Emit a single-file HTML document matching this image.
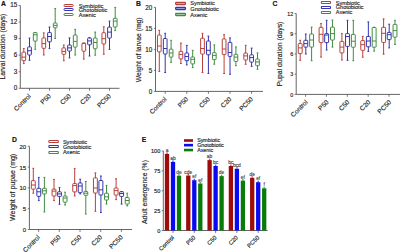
<!DOCTYPE html>
<html><head><meta charset="utf-8"><style>
html,body{margin:0;padding:0;background:#fff;width:400px;height:252px;overflow:hidden}
svg{display:block;font-family:"Liberation Sans", sans-serif} text{stroke:#222;stroke-width:0.15px;paint-order:stroke}
</style></head><body>
<svg width="400" height="252" viewBox="0 0 400 252">
<rect width="400" height="252" fill="#fff"/>
<line x1="20.3" y1="5.5" x2="20.3" y2="88.3" stroke="#555" stroke-width="0.9"/>
<line x1="20.3" y1="88.3" x2="119.5" y2="88.3" stroke="#555" stroke-width="0.9"/>
<line x1="18.7" y1="88.3" x2="20.3" y2="88.3" stroke="#555" stroke-width="0.8"/>
<text x="17.3" y="90.1" font-size="6.3" text-anchor="end" fill="#222">0</text>
<line x1="18.7" y1="71.74" x2="20.3" y2="71.74" stroke="#555" stroke-width="0.8"/>
<text x="17.3" y="73.53999999999999" font-size="6.3" text-anchor="end" fill="#222">3</text>
<line x1="18.7" y1="55.18" x2="20.3" y2="55.18" stroke="#555" stroke-width="0.8"/>
<text x="17.3" y="56.98" font-size="6.3" text-anchor="end" fill="#222">6</text>
<line x1="18.7" y1="38.62" x2="20.3" y2="38.62" stroke="#555" stroke-width="0.8"/>
<text x="17.3" y="40.419999999999995" font-size="6.3" text-anchor="end" fill="#222">9</text>
<line x1="18.7" y1="22.06" x2="20.3" y2="22.06" stroke="#555" stroke-width="0.8"/>
<text x="17.3" y="23.86" font-size="6.3" text-anchor="end" fill="#222">12</text>
<line x1="18.7" y1="5.5" x2="20.3" y2="5.5" stroke="#555" stroke-width="0.8"/>
<text x="17.3" y="7.3" font-size="6.3" text-anchor="end" fill="#222">15</text>
<line x1="29.5" y1="88.3" x2="29.5" y2="90.7" stroke="#555" stroke-width="0.8"/>
<text transform="translate(31.3,96.6) rotate(-45)" font-size="6.5" text-anchor="end" fill="#222">Control</text>
<line x1="49.5" y1="88.3" x2="49.5" y2="90.7" stroke="#555" stroke-width="0.8"/>
<text transform="translate(51.3,96.6) rotate(-45)" font-size="6.5" text-anchor="end" fill="#222">P50</text>
<line x1="69.5" y1="88.3" x2="69.5" y2="90.7" stroke="#555" stroke-width="0.8"/>
<text transform="translate(71.3,96.6) rotate(-45)" font-size="6.5" text-anchor="end" fill="#222">C50</text>
<line x1="89.5" y1="88.3" x2="89.5" y2="90.7" stroke="#555" stroke-width="0.8"/>
<text transform="translate(91.3,96.6) rotate(-45)" font-size="6.5" text-anchor="end" fill="#222">C20</text>
<line x1="109.5" y1="88.3" x2="109.5" y2="90.7" stroke="#555" stroke-width="0.8"/>
<text transform="translate(111.3,96.6) rotate(-45)" font-size="6.5" text-anchor="end" fill="#222">PC50</text>
<text transform="translate(5.0,46.6) rotate(-90)" font-size="6.8" text-anchor="middle" fill="#222">Larval duration (days)</text>
<text x="1.0" y="6.0" font-size="6.8" font-weight="bold" fill="#111">A</text>
<rect x="64.1" y="4.5" width="8.999999999999993" height="2" rx="0.5" fill="none" stroke="#b8403a" stroke-width="1.0"/>
<text x="78.7" y="7.5" font-size="5.7" fill="#222">Symbiotic</text>
<rect x="64.1" y="8.5" width="8.999999999999993" height="2" rx="0.5" fill="none" stroke="#3535b0" stroke-width="1.0"/>
<text x="78.7" y="12.0" font-size="5.7" fill="#222">Gnotobiotic</text>
<rect x="64.1" y="13.5" width="8.999999999999993" height="2" rx="0.5" fill="none" stroke="#428c42" stroke-width="1.0"/>
<text x="78.7" y="16.5" font-size="5.7" fill="#222">Axenic</text>
<g stroke="#b8403a" stroke-width="1.0" fill="none"><line x1="23.8" y1="48.6" x2="23.8" y2="52.1"/><line x1="23.8" y1="60.7" x2="23.8" y2="63.6"/><line x1="22.900000000000002" y1="48.6" x2="24.7" y2="48.6"/><line x1="22.900000000000002" y1="63.6" x2="24.7" y2="63.6"/><rect x="21.95" y="52.1" width="3.7" height="8.600000000000001" rx="0.6"/><line x1="21.95" y1="57.1" x2="25.65" y2="57.1"/></g>
<g stroke="#3535b0" stroke-width="1.0" fill="none"><line x1="29.5" y1="38.1" x2="29.5" y2="46.9"/><line x1="29.5" y1="55" x2="29.5" y2="60.3"/><line x1="28.6" y1="38.1" x2="30.4" y2="38.1"/><line x1="28.6" y1="60.3" x2="30.4" y2="60.3"/><rect x="27.65" y="46.9" width="3.7" height="8.100000000000001" rx="0.6"/><line x1="27.65" y1="50.7" x2="31.349999999999998" y2="50.7"/></g>
<g stroke="#428c42" stroke-width="1.0" fill="none"><line x1="35.2" y1="32.6" x2="35.2" y2="32.6"/><line x1="35.2" y1="41.1" x2="35.2" y2="49.3"/><line x1="34.300000000000004" y1="32.6" x2="36.1" y2="32.6"/><line x1="34.300000000000004" y1="49.3" x2="36.1" y2="49.3"/><rect x="33.35" y="32.6" width="3.7" height="8.5" rx="0.6"/><line x1="33.35" y1="34.8" x2="37.050000000000004" y2="34.8"/></g>
<g stroke="#b8403a" stroke-width="1.0" fill="none"><line x1="43.8" y1="32.9" x2="43.8" y2="37.9"/><line x1="43.8" y1="48.3" x2="43.8" y2="55"/><line x1="42.9" y1="32.9" x2="44.699999999999996" y2="32.9"/><line x1="42.9" y1="55" x2="44.699999999999996" y2="55"/><rect x="41.949999999999996" y="37.9" width="3.7" height="10.399999999999999" rx="0.6"/><line x1="41.949999999999996" y1="43.6" x2="45.65" y2="43.6"/></g>
<g stroke="#3535b0" stroke-width="1.0" fill="none"><line x1="49.5" y1="27.0" x2="49.5" y2="32.5"/><line x1="49.5" y1="41.8" x2="49.5" y2="48.6"/><line x1="48.6" y1="27.0" x2="50.4" y2="27.0"/><line x1="48.6" y1="48.6" x2="50.4" y2="48.6"/><rect x="47.65" y="32.5" width="3.7" height="9.299999999999997" rx="0.6"/><line x1="47.65" y1="36.5" x2="51.35" y2="36.5"/></g>
<g stroke="#428c42" stroke-width="1.0" fill="none"><line x1="55.2" y1="8.6" x2="55.2" y2="23.0"/><line x1="55.2" y1="27.8" x2="55.2" y2="38.5"/><line x1="54.300000000000004" y1="8.6" x2="56.1" y2="8.6"/><line x1="54.300000000000004" y1="38.5" x2="56.1" y2="38.5"/><rect x="53.35" y="23.0" width="3.7" height="4.800000000000001" rx="0.6"/><line x1="53.35" y1="25.4" x2="57.050000000000004" y2="25.4"/></g>
<g stroke="#b8403a" stroke-width="1.0" fill="none"><line x1="63.8" y1="45" x2="63.8" y2="47.9"/><line x1="63.8" y1="54.3" x2="63.8" y2="60.7"/><line x1="62.9" y1="45" x2="64.7" y2="45"/><line x1="62.9" y1="60.7" x2="64.7" y2="60.7"/><rect x="61.949999999999996" y="47.9" width="3.7" height="6.399999999999999" rx="0.6"/><line x1="61.949999999999996" y1="51.4" x2="65.64999999999999" y2="51.4"/></g>
<g stroke="#3535b0" stroke-width="1.0" fill="none"><line x1="69.5" y1="37.9" x2="69.5" y2="45"/><line x1="69.5" y1="51.1" x2="69.5" y2="57.9"/><line x1="68.6" y1="37.9" x2="70.4" y2="37.9"/><line x1="68.6" y1="57.9" x2="70.4" y2="57.9"/><rect x="67.65" y="45" width="3.7" height="6.100000000000001" rx="0.6"/><line x1="67.65" y1="47.9" x2="71.35000000000001" y2="47.9"/></g>
<g stroke="#428c42" stroke-width="1.0" fill="none"><line x1="75.2" y1="29.3" x2="75.2" y2="35"/><line x1="75.2" y1="47.1" x2="75.2" y2="55"/><line x1="74.3" y1="29.3" x2="76.10000000000001" y2="29.3"/><line x1="74.3" y1="55" x2="76.10000000000001" y2="55"/><rect x="73.35000000000001" y="35" width="3.7" height="12.100000000000001" rx="0.6"/><line x1="73.35000000000001" y1="41.4" x2="77.05000000000001" y2="41.4"/></g>
<g stroke="#b8403a" stroke-width="1.0" fill="none"><line x1="83.8" y1="43.1" x2="83.8" y2="43.3"/><line x1="83.8" y1="51.2" x2="83.8" y2="59.1"/><line x1="82.89999999999999" y1="43.1" x2="84.7" y2="43.1"/><line x1="82.89999999999999" y1="59.1" x2="84.7" y2="59.1"/><rect x="81.95" y="43.3" width="3.7" height="7.900000000000006" rx="0.6"/><line x1="81.95" y1="43.3" x2="85.65" y2="43.3"/></g>
<g stroke="#3535b0" stroke-width="1.0" fill="none"><line x1="89.5" y1="37.7" x2="89.5" y2="38"/><line x1="89.5" y1="44.8" x2="89.5" y2="56"/><line x1="88.6" y1="37.7" x2="90.4" y2="37.7"/><line x1="88.6" y1="56" x2="90.4" y2="56"/><rect x="87.65" y="38" width="3.7" height="6.799999999999997" rx="0.6"/><line x1="87.65" y1="40.9" x2="91.35000000000001" y2="40.9"/></g>
<g stroke="#428c42" stroke-width="1.0" fill="none"><line x1="95.2" y1="32.1" x2="95.2" y2="38"/><line x1="95.2" y1="48.8" x2="95.2" y2="55.2"/><line x1="94.3" y1="32.1" x2="96.10000000000001" y2="32.1"/><line x1="94.3" y1="55.2" x2="96.10000000000001" y2="55.2"/><rect x="93.35000000000001" y="38" width="3.7" height="10.799999999999997" rx="0.6"/><line x1="93.35000000000001" y1="42.5" x2="97.05000000000001" y2="42.5"/></g>
<g stroke="#b8403a" stroke-width="1.0" fill="none"><line x1="103.8" y1="26.8" x2="103.8" y2="32.7"/><line x1="103.8" y1="44" x2="103.8" y2="54.2"/><line x1="102.89999999999999" y1="26.8" x2="104.7" y2="26.8"/><line x1="102.89999999999999" y1="54.2" x2="104.7" y2="54.2"/><rect x="101.95" y="32.7" width="3.7" height="11.299999999999997" rx="0.6"/><line x1="101.95" y1="38.7" x2="105.65" y2="38.7"/></g>
<g stroke="#3535b0" stroke-width="1.0" fill="none"><line x1="109.5" y1="21.1" x2="109.5" y2="27.1"/><line x1="109.5" y1="38.1" x2="109.5" y2="49.4"/><line x1="108.6" y1="21.1" x2="110.4" y2="21.1"/><line x1="108.6" y1="49.4" x2="110.4" y2="49.4"/><rect x="107.65" y="27.1" width="3.7" height="11.0" rx="0.6"/><line x1="107.65" y1="32.1" x2="111.35000000000001" y2="32.1"/></g>
<g stroke="#428c42" stroke-width="1.0" fill="none"><line x1="115.2" y1="7.4" x2="115.2" y2="18.3"/><line x1="115.2" y1="27" x2="115.2" y2="30.6"/><line x1="114.3" y1="7.4" x2="116.10000000000001" y2="7.4"/><line x1="114.3" y1="30.6" x2="116.10000000000001" y2="30.6"/><rect x="113.35000000000001" y="18.3" width="3.7" height="8.7" rx="0.6"/><line x1="113.35000000000001" y1="21.1" x2="117.05000000000001" y2="21.1"/></g>
<line x1="155.5" y1="7.4" x2="155.5" y2="91.4" stroke="#555" stroke-width="0.9"/>
<line x1="155.5" y1="91.4" x2="263" y2="91.4" stroke="#555" stroke-width="0.9"/>
<line x1="153.9" y1="91.4" x2="155.5" y2="91.4" stroke="#555" stroke-width="0.8"/>
<text x="152.2" y="93.60000000000001" font-size="6.3" text-anchor="end" fill="#222">0</text>
<line x1="153.9" y1="70.4" x2="155.5" y2="70.4" stroke="#555" stroke-width="0.8"/>
<text x="152.2" y="72.60000000000001" font-size="6.3" text-anchor="end" fill="#222">5</text>
<line x1="153.9" y1="49.4" x2="155.5" y2="49.4" stroke="#555" stroke-width="0.8"/>
<text x="152.2" y="51.6" font-size="6.3" text-anchor="end" fill="#222">10</text>
<line x1="153.9" y1="28.4" x2="155.5" y2="28.4" stroke="#555" stroke-width="0.8"/>
<text x="152.2" y="30.599999999999998" font-size="6.3" text-anchor="end" fill="#222">15</text>
<line x1="153.9" y1="7.4" x2="155.5" y2="7.4" stroke="#555" stroke-width="0.8"/>
<text x="152.2" y="9.600000000000001" font-size="6.3" text-anchor="end" fill="#222">20</text>
<line x1="165.2" y1="91.4" x2="165.2" y2="93.80000000000001" stroke="#555" stroke-width="0.8"/>
<text transform="translate(167.0,99.7) rotate(-45)" font-size="6.5" text-anchor="end" fill="#222">Control</text>
<line x1="186.79999999999998" y1="91.4" x2="186.79999999999998" y2="93.80000000000001" stroke="#555" stroke-width="0.8"/>
<text transform="translate(188.6,99.7) rotate(-45)" font-size="6.5" text-anchor="end" fill="#222">P50</text>
<line x1="208.39999999999998" y1="91.4" x2="208.39999999999998" y2="93.80000000000001" stroke="#555" stroke-width="0.8"/>
<text transform="translate(210.2,99.7) rotate(-45)" font-size="6.5" text-anchor="end" fill="#222">C50</text>
<line x1="230.0" y1="91.4" x2="230.0" y2="93.80000000000001" stroke="#555" stroke-width="0.8"/>
<text transform="translate(231.8,99.7) rotate(-45)" font-size="6.5" text-anchor="end" fill="#222">C20</text>
<line x1="251.6" y1="91.4" x2="251.6" y2="93.80000000000001" stroke="#555" stroke-width="0.8"/>
<text transform="translate(253.4,99.7) rotate(-45)" font-size="6.5" text-anchor="end" fill="#222">PC50</text>
<text transform="translate(141.0,49.8) rotate(-90)" font-size="6.8" text-anchor="middle" fill="#222">Weight of larvae (mg)</text>
<text x="136.0" y="6.0" font-size="6.8" font-weight="bold" fill="#111">B</text>
<rect x="175.7" y="2.5" width="9.700000000000017" height="2" rx="0.5" fill="none" stroke="#b8403a" stroke-width="1.2999999999999998"/>
<text x="190.3" y="5.0" font-size="5.65" fill="#222">Symbiotic</text>
<rect x="175.7" y="7.5" width="9.700000000000017" height="2" rx="0.5" fill="none" stroke="#3535b0" stroke-width="1.2999999999999998"/>
<text x="190.3" y="11.0" font-size="5.65" fill="#222">Gnotobiotic</text>
<rect x="175.7" y="13.5" width="9.700000000000017" height="2" rx="0.5" fill="none" stroke="#428c42" stroke-width="1.2999999999999998"/>
<text x="190.3" y="16.6" font-size="5.65" fill="#222">Axenic</text>
<g stroke="#b8403a" stroke-width="1.0" fill="none"><line x1="159.29999999999998" y1="30.3" x2="159.29999999999998" y2="35"/><line x1="159.29999999999998" y1="51.8" x2="159.29999999999998" y2="71.4"/><line x1="158.39999999999998" y1="30.3" x2="160.2" y2="30.3"/><line x1="158.39999999999998" y1="71.4" x2="160.2" y2="71.4"/><rect x="157.45" y="35" width="3.7" height="16.799999999999997" rx="0.6"/><line x1="157.45" y1="46.0" x2="161.14999999999998" y2="46.0"/></g>
<g stroke="#3535b0" stroke-width="1.0" fill="none"><line x1="165.2" y1="33.3" x2="165.2" y2="38.5"/><line x1="165.2" y1="54" x2="165.2" y2="72.5"/><line x1="164.29999999999998" y1="33.3" x2="166.1" y2="33.3"/><line x1="164.29999999999998" y1="72.5" x2="166.1" y2="72.5"/><rect x="163.35" y="38.5" width="3.7" height="15.5" rx="0.6"/><line x1="163.35" y1="48.5" x2="167.04999999999998" y2="48.5"/></g>
<g stroke="#428c42" stroke-width="1.0" fill="none"><line x1="171.1" y1="40.3" x2="171.1" y2="49.2"/><line x1="171.1" y1="57.1" x2="171.1" y2="62.4"/><line x1="170.2" y1="40.3" x2="172.0" y2="40.3"/><line x1="170.2" y1="62.4" x2="172.0" y2="62.4"/><rect x="169.25" y="49.2" width="3.7" height="7.899999999999999" rx="0.6"/><line x1="169.25" y1="53.0" x2="172.95" y2="53.0"/></g>
<g stroke="#b8403a" stroke-width="1.0" fill="none"><line x1="180.89999999999998" y1="43.1" x2="180.89999999999998" y2="51.4"/><line x1="180.89999999999998" y1="58.9" x2="180.89999999999998" y2="63.5"/><line x1="179.99999999999997" y1="43.1" x2="181.79999999999998" y2="43.1"/><line x1="179.99999999999997" y1="63.5" x2="181.79999999999998" y2="63.5"/><rect x="179.04999999999998" y="51.4" width="3.7" height="7.5" rx="0.6"/><line x1="179.04999999999998" y1="54.4" x2="182.74999999999997" y2="54.4"/></g>
<g stroke="#3535b0" stroke-width="1.0" fill="none"><line x1="186.79999999999998" y1="45.4" x2="186.79999999999998" y2="53"/><line x1="186.79999999999998" y1="60.7" x2="186.79999999999998" y2="64.9"/><line x1="185.89999999999998" y1="45.4" x2="187.7" y2="45.4"/><line x1="185.89999999999998" y1="64.9" x2="187.7" y2="64.9"/><rect x="184.95" y="53" width="3.7" height="7.700000000000003" rx="0.6"/><line x1="184.95" y1="56.5" x2="188.64999999999998" y2="56.5"/></g>
<g stroke="#428c42" stroke-width="1.0" fill="none"><line x1="192.7" y1="50.3" x2="192.7" y2="57"/><line x1="192.7" y1="63.9" x2="192.7" y2="67.6"/><line x1="191.79999999999998" y1="50.3" x2="193.6" y2="50.3"/><line x1="191.79999999999998" y1="67.6" x2="193.6" y2="67.6"/><rect x="190.85" y="57" width="3.7" height="6.899999999999999" rx="0.6"/><line x1="190.85" y1="59.3" x2="194.54999999999998" y2="59.3"/></g>
<g stroke="#b8403a" stroke-width="1.0" fill="none"><line x1="202.49999999999997" y1="33.3" x2="202.49999999999997" y2="38.2"/><line x1="202.49999999999997" y1="54.1" x2="202.49999999999997" y2="72.5"/><line x1="201.59999999999997" y1="33.3" x2="203.39999999999998" y2="33.3"/><line x1="201.59999999999997" y1="72.5" x2="203.39999999999998" y2="72.5"/><rect x="200.64999999999998" y="38.2" width="3.7" height="15.899999999999999" rx="0.6"/><line x1="200.64999999999998" y1="48.5" x2="204.34999999999997" y2="48.5"/></g>
<g stroke="#3535b0" stroke-width="1.0" fill="none"><line x1="208.39999999999998" y1="36.1" x2="208.39999999999998" y2="41"/><line x1="208.39999999999998" y1="54.8" x2="208.39999999999998" y2="73.5"/><line x1="207.49999999999997" y1="36.1" x2="209.29999999999998" y2="36.1"/><line x1="207.49999999999997" y1="73.5" x2="209.29999999999998" y2="73.5"/><rect x="206.54999999999998" y="41" width="3.7" height="13.799999999999997" rx="0.6"/><line x1="206.54999999999998" y1="50.3" x2="210.24999999999997" y2="50.3"/></g>
<g stroke="#428c42" stroke-width="1.0" fill="none"><line x1="214.29999999999998" y1="44.9" x2="214.29999999999998" y2="52.7"/><line x1="214.29999999999998" y1="59.6" x2="214.29999999999998" y2="64.2"/><line x1="213.39999999999998" y1="44.9" x2="215.2" y2="44.9"/><line x1="213.39999999999998" y1="64.2" x2="215.2" y2="64.2"/><rect x="212.45" y="52.7" width="3.7" height="6.899999999999999" rx="0.6"/><line x1="212.45" y1="55.4" x2="216.14999999999998" y2="55.4"/></g>
<g stroke="#b8403a" stroke-width="1.0" fill="none"><line x1="224.1" y1="34.7" x2="224.1" y2="38.9"/><line x1="224.1" y1="54.6" x2="224.1" y2="73.5"/><line x1="223.2" y1="34.7" x2="225.0" y2="34.7"/><line x1="223.2" y1="73.5" x2="225.0" y2="73.5"/><rect x="222.25" y="38.9" width="3.7" height="15.700000000000003" rx="0.6"/><line x1="222.25" y1="49.0" x2="225.95" y2="49.0"/></g>
<g stroke="#3535b0" stroke-width="1.0" fill="none"><line x1="230.0" y1="37.9" x2="230.0" y2="42.4"/><line x1="230.0" y1="56.4" x2="230.0" y2="74.3"/><line x1="229.1" y1="37.9" x2="230.9" y2="37.9"/><line x1="229.1" y1="74.3" x2="230.9" y2="74.3"/><rect x="228.15" y="42.4" width="3.7" height="14.0" rx="0.6"/><line x1="228.15" y1="52.5" x2="231.85" y2="52.5"/></g>
<g stroke="#428c42" stroke-width="1.0" fill="none"><line x1="235.9" y1="46.9" x2="235.9" y2="54.3"/><line x1="235.9" y1="61.4" x2="235.9" y2="65.7"/><line x1="235.0" y1="46.9" x2="236.8" y2="46.9"/><line x1="235.0" y1="65.7" x2="236.8" y2="65.7"/><rect x="234.05" y="54.3" width="3.7" height="7.100000000000001" rx="0.6"/><line x1="234.05" y1="57.1" x2="237.75" y2="57.1"/></g>
<g stroke="#b8403a" stroke-width="1.0" fill="none"><line x1="245.7" y1="45.3" x2="245.7" y2="53.1"/><line x1="245.7" y1="60" x2="245.7" y2="64.3"/><line x1="244.79999999999998" y1="45.3" x2="246.6" y2="45.3"/><line x1="244.79999999999998" y1="64.3" x2="246.6" y2="64.3"/><rect x="243.85" y="53.1" width="3.7" height="6.899999999999999" rx="0.6"/><line x1="243.85" y1="55.9" x2="247.54999999999998" y2="55.9"/></g>
<g stroke="#3535b0" stroke-width="1.0" fill="none"><line x1="251.6" y1="48.1" x2="251.6" y2="54.8"/><line x1="251.6" y1="62.1" x2="251.6" y2="66.4"/><line x1="250.7" y1="48.1" x2="252.5" y2="48.1"/><line x1="250.7" y1="66.4" x2="252.5" y2="66.4"/><rect x="249.75" y="54.8" width="3.7" height="7.300000000000004" rx="0.6"/><line x1="249.75" y1="57.6" x2="253.45" y2="57.6"/></g>
<g stroke="#428c42" stroke-width="1.0" fill="none"><line x1="257.5" y1="52.9" x2="257.5" y2="59"/><line x1="257.5" y1="65.7" x2="257.5" y2="69.3"/><line x1="256.6" y1="52.9" x2="258.4" y2="52.9"/><line x1="256.6" y1="69.3" x2="258.4" y2="69.3"/><rect x="255.65" y="59" width="3.7" height="6.700000000000003" rx="0.6"/><line x1="255.65" y1="61.9" x2="259.35" y2="61.9"/></g>
<line x1="296.2" y1="13.52" x2="296.2" y2="94.4" stroke="#555" stroke-width="0.9"/>
<line x1="296.2" y1="94.4" x2="400" y2="94.4" stroke="#555" stroke-width="0.9"/>
<line x1="294.59999999999997" y1="94.4" x2="296.2" y2="94.4" stroke="#555" stroke-width="0.8"/>
<text x="293.2" y="96.60000000000001" font-size="5.3" text-anchor="end" fill="#222">0</text>
<line x1="294.59999999999997" y1="74.18" x2="296.2" y2="74.18" stroke="#555" stroke-width="0.8"/>
<text x="293.2" y="76.38000000000001" font-size="5.3" text-anchor="end" fill="#222">3</text>
<line x1="294.59999999999997" y1="53.96" x2="296.2" y2="53.96" stroke="#555" stroke-width="0.8"/>
<text x="293.2" y="56.160000000000004" font-size="5.3" text-anchor="end" fill="#222">6</text>
<line x1="294.59999999999997" y1="33.74" x2="296.2" y2="33.74" stroke="#555" stroke-width="0.8"/>
<text x="293.2" y="35.940000000000005" font-size="5.3" text-anchor="end" fill="#222">9</text>
<line x1="294.59999999999997" y1="13.52" x2="296.2" y2="13.52" stroke="#555" stroke-width="0.8"/>
<text x="293.2" y="15.719999999999999" font-size="5.3" text-anchor="end" fill="#222">12</text>
<line x1="305.6" y1="94.4" x2="305.6" y2="96.80000000000001" stroke="#555" stroke-width="0.8"/>
<text transform="translate(308.20000000000005,102.7) rotate(-45)" font-size="6.5" text-anchor="end" fill="#222">Control</text>
<line x1="326.45000000000005" y1="94.4" x2="326.45000000000005" y2="96.80000000000001" stroke="#555" stroke-width="0.8"/>
<text transform="translate(329.05000000000007,102.7) rotate(-45)" font-size="6.5" text-anchor="end" fill="#222">P50</text>
<line x1="347.3" y1="94.4" x2="347.3" y2="96.80000000000001" stroke="#555" stroke-width="0.8"/>
<text transform="translate(349.90000000000003,102.7) rotate(-45)" font-size="6.5" text-anchor="end" fill="#222">C50</text>
<line x1="368.15000000000003" y1="94.4" x2="368.15000000000003" y2="96.80000000000001" stroke="#555" stroke-width="0.8"/>
<text transform="translate(370.75000000000006,102.7) rotate(-45)" font-size="6.5" text-anchor="end" fill="#222">C20</text>
<line x1="389.0" y1="94.4" x2="389.0" y2="96.80000000000001" stroke="#555" stroke-width="0.8"/>
<text transform="translate(391.6,102.7) rotate(-45)" font-size="6.5" text-anchor="end" fill="#222">PC50</text>
<text transform="translate(281.5,54) rotate(-90)" font-size="6.8" text-anchor="middle" fill="#222">Pupal duration (days)</text>
<text x="272.5" y="6.0" font-size="6.8" font-weight="bold" fill="#111">C</text>
<rect x="321.4" y="1.5" width="9.100000000000023" height="2" rx="0.5" fill="none" stroke="#b8403a" stroke-width="1.1"/>
<text x="335.8" y="4.6" font-size="5.5" fill="#222">Symbiotic</text>
<rect x="321.4" y="6.5" width="9.100000000000023" height="2" rx="0.5" fill="none" stroke="#3535b0" stroke-width="1.1"/>
<text x="335.8" y="9.2" font-size="5.5" fill="#222">Gnotobiotic</text>
<rect x="321.4" y="11.5" width="9.100000000000023" height="2" rx="0.5" fill="none" stroke="#428c42" stroke-width="1.1"/>
<text x="335.8" y="14.0" font-size="5.5" fill="#222">Axenic</text>
<g stroke="#b8403a" stroke-width="1.0" fill="none"><line x1="300.20000000000005" y1="40.3" x2="300.20000000000005" y2="43.6"/><line x1="300.20000000000005" y1="53.6" x2="300.20000000000005" y2="60.3"/><line x1="299.30000000000007" y1="40.3" x2="301.1" y2="40.3"/><line x1="299.30000000000007" y1="60.3" x2="301.1" y2="60.3"/><rect x="298.25000000000006" y="43.6" width="3.9" height="10.0" rx="0.6"/><line x1="298.25000000000006" y1="47.9" x2="302.15000000000003" y2="47.9"/></g>
<g stroke="#3535b0" stroke-width="1.0" fill="none"><line x1="305.8" y1="34" x2="305.8" y2="40.3"/><line x1="305.8" y1="47.1" x2="305.8" y2="54"/><line x1="304.90000000000003" y1="34" x2="306.7" y2="34"/><line x1="304.90000000000003" y1="54" x2="306.7" y2="54"/><rect x="303.85" y="40.3" width="3.9" height="6.800000000000004" rx="0.6"/><line x1="303.85" y1="43.6" x2="307.75" y2="43.6"/></g>
<g stroke="#428c42" stroke-width="1.0" fill="none"><line x1="311.6" y1="27.1" x2="311.6" y2="34"/><line x1="311.6" y1="47.1" x2="311.6" y2="60.7"/><line x1="310.70000000000005" y1="27.1" x2="312.5" y2="27.1"/><line x1="310.70000000000005" y1="60.7" x2="312.5" y2="60.7"/><rect x="309.65000000000003" y="34" width="3.9" height="13.100000000000001" rx="0.6"/><line x1="309.65000000000003" y1="40" x2="313.55" y2="40"/></g>
<g stroke="#b8403a" stroke-width="1.0" fill="none"><line x1="321.05000000000007" y1="23.6" x2="321.05000000000007" y2="27.4"/><line x1="321.05000000000007" y1="42.6" x2="321.05000000000007" y2="57.1"/><line x1="320.1500000000001" y1="23.6" x2="321.95000000000005" y2="23.6"/><line x1="320.1500000000001" y1="57.1" x2="321.95000000000005" y2="57.1"/><rect x="319.1000000000001" y="27.4" width="3.9" height="15.200000000000003" rx="0.6"/><line x1="319.1000000000001" y1="34.3" x2="323.00000000000006" y2="34.3"/></g>
<g stroke="#3535b0" stroke-width="1.0" fill="none"><line x1="326.65000000000003" y1="20.3" x2="326.65000000000003" y2="33.6"/><line x1="326.65000000000003" y1="42.6" x2="326.65000000000003" y2="50"/><line x1="325.75000000000006" y1="20.3" x2="327.55" y2="20.3"/><line x1="325.75000000000006" y1="50" x2="327.55" y2="50"/><rect x="324.70000000000005" y="33.6" width="3.9" height="9.0" rx="0.6"/><line x1="324.70000000000005" y1="35" x2="328.6" y2="35"/></g>
<g stroke="#428c42" stroke-width="1.0" fill="none"><line x1="332.45000000000005" y1="20" x2="332.45000000000005" y2="27.1"/><line x1="332.45000000000005" y1="40" x2="332.45000000000005" y2="47.1"/><line x1="331.55000000000007" y1="20" x2="333.35" y2="20"/><line x1="331.55000000000007" y1="47.1" x2="333.35" y2="47.1"/><rect x="330.50000000000006" y="27.1" width="3.9" height="12.899999999999999" rx="0.6"/><line x1="330.50000000000006" y1="33.6" x2="334.40000000000003" y2="33.6"/></g>
<g stroke="#b8403a" stroke-width="1.0" fill="none"><line x1="341.90000000000003" y1="33.6" x2="341.90000000000003" y2="41.4"/><line x1="341.90000000000003" y1="52.9" x2="341.90000000000003" y2="60"/><line x1="341.00000000000006" y1="33.6" x2="342.8" y2="33.6"/><line x1="341.00000000000006" y1="60" x2="342.8" y2="60"/><rect x="339.95000000000005" y="41.4" width="3.9" height="11.5" rx="0.6"/><line x1="339.95000000000005" y1="47.1" x2="343.85" y2="47.1"/></g>
<g stroke="#3535b0" stroke-width="1.0" fill="none"><line x1="347.5" y1="20.3" x2="347.5" y2="33.6"/><line x1="347.5" y1="46.4" x2="347.5" y2="60.3"/><line x1="346.6" y1="20.3" x2="348.4" y2="20.3"/><line x1="346.6" y1="60.3" x2="348.4" y2="60.3"/><rect x="345.55" y="33.6" width="3.9" height="12.799999999999997" rx="0.6"/><line x1="345.55" y1="36.5" x2="349.45" y2="36.5"/></g>
<g stroke="#428c42" stroke-width="1.0" fill="none"><line x1="353.3" y1="20.3" x2="353.3" y2="34.4"/><line x1="353.3" y1="47.2" x2="353.3" y2="60.7"/><line x1="352.40000000000003" y1="20.3" x2="354.2" y2="20.3"/><line x1="352.40000000000003" y1="60.7" x2="354.2" y2="60.7"/><rect x="351.35" y="34.4" width="3.9" height="12.800000000000004" rx="0.6"/><line x1="351.35" y1="41.2" x2="355.25" y2="41.2"/></g>
<g stroke="#b8403a" stroke-width="1.0" fill="none"><line x1="362.75000000000006" y1="36.4" x2="362.75000000000006" y2="40.6"/><line x1="362.75000000000006" y1="50.3" x2="362.75000000000006" y2="57.2"/><line x1="361.8500000000001" y1="36.4" x2="363.65000000000003" y2="36.4"/><line x1="361.8500000000001" y1="57.2" x2="363.65000000000003" y2="57.2"/><rect x="360.80000000000007" y="40.6" width="3.9" height="9.699999999999996" rx="0.6"/><line x1="360.80000000000007" y1="44.7" x2="364.70000000000005" y2="44.7"/></g>
<g stroke="#3535b0" stroke-width="1.0" fill="none"><line x1="368.35" y1="21.9" x2="368.35" y2="36.5"/><line x1="368.35" y1="46.8" x2="368.35" y2="51.4"/><line x1="367.45000000000005" y1="21.9" x2="369.25" y2="21.9"/><line x1="367.45000000000005" y1="51.4" x2="369.25" y2="51.4"/><rect x="366.40000000000003" y="36.5" width="3.9" height="10.299999999999997" rx="0.6"/><line x1="366.40000000000003" y1="41.0" x2="370.3" y2="41.0"/></g>
<g stroke="#428c42" stroke-width="1.0" fill="none"><line x1="374.15000000000003" y1="27.2" x2="374.15000000000003" y2="27.5"/><line x1="374.15000000000003" y1="47.2" x2="374.15000000000003" y2="51.1"/><line x1="373.25000000000006" y1="27.2" x2="375.05" y2="27.2"/><line x1="373.25000000000006" y1="51.1" x2="375.05" y2="51.1"/><rect x="372.20000000000005" y="27.5" width="3.9" height="19.700000000000003" rx="0.6"/><line x1="372.20000000000005" y1="41" x2="376.1" y2="41"/></g>
<g stroke="#b8403a" stroke-width="1.0" fill="none"><line x1="383.6" y1="18.9" x2="383.6" y2="27.3"/><line x1="383.6" y1="42.4" x2="383.6" y2="54.2"/><line x1="382.70000000000005" y1="18.9" x2="384.5" y2="18.9"/><line x1="382.70000000000005" y1="54.2" x2="384.5" y2="54.2"/><rect x="381.65000000000003" y="27.3" width="3.9" height="15.099999999999998" rx="0.6"/><line x1="381.65000000000003" y1="33.3" x2="385.55" y2="33.3"/></g>
<g stroke="#3535b0" stroke-width="1.0" fill="none"><line x1="389.2" y1="24.2" x2="389.2" y2="32.4"/><line x1="389.2" y1="39.6" x2="389.2" y2="47.9"/><line x1="388.3" y1="24.2" x2="390.09999999999997" y2="24.2"/><line x1="388.3" y1="47.9" x2="390.09999999999997" y2="47.9"/><rect x="387.25" y="32.4" width="3.9" height="7.200000000000003" rx="0.6"/><line x1="387.25" y1="34.7" x2="391.15" y2="34.7"/></g>
<g stroke="#428c42" stroke-width="1.0" fill="none"><line x1="395.0" y1="20.3" x2="395.0" y2="24.4"/><line x1="395.0" y1="37.2" x2="395.0" y2="44.4"/><line x1="394.1" y1="20.3" x2="395.9" y2="20.3"/><line x1="394.1" y1="44.4" x2="395.9" y2="44.4"/><rect x="393.05" y="24.4" width="3.9" height="12.800000000000004" rx="0.6"/><line x1="393.05" y1="30.6" x2="396.95" y2="30.6"/></g>
<line x1="29.4" y1="146.3" x2="29.4" y2="229.5" stroke="#555" stroke-width="0.9"/>
<line x1="29.4" y1="229.5" x2="132" y2="229.5" stroke="#555" stroke-width="0.9"/>
<line x1="27.799999999999997" y1="229.5" x2="29.4" y2="229.5" stroke="#555" stroke-width="0.8"/>
<text x="26.099999999999998" y="232.0" font-size="6.0" text-anchor="end" fill="#222">0</text>
<line x1="27.799999999999997" y1="208.7" x2="29.4" y2="208.7" stroke="#555" stroke-width="0.8"/>
<text x="26.099999999999998" y="211.2" font-size="6.0" text-anchor="end" fill="#222">5</text>
<line x1="27.799999999999997" y1="187.9" x2="29.4" y2="187.9" stroke="#555" stroke-width="0.8"/>
<text x="26.099999999999998" y="190.4" font-size="6.0" text-anchor="end" fill="#222">10</text>
<line x1="27.799999999999997" y1="167.1" x2="29.4" y2="167.1" stroke="#555" stroke-width="0.8"/>
<text x="26.099999999999998" y="169.6" font-size="6.0" text-anchor="end" fill="#222">15</text>
<line x1="27.799999999999997" y1="146.3" x2="29.4" y2="146.3" stroke="#555" stroke-width="0.8"/>
<text x="26.099999999999998" y="148.8" font-size="6.0" text-anchor="end" fill="#222">20</text>
<line x1="38.6" y1="229.5" x2="38.6" y2="231.9" stroke="#555" stroke-width="0.8"/>
<text transform="translate(40.4,237.8) rotate(-45)" font-size="6.5" text-anchor="end" fill="#222">Control</text>
<line x1="59.3" y1="229.5" x2="59.3" y2="231.9" stroke="#555" stroke-width="0.8"/>
<text transform="translate(61.099999999999994,237.8) rotate(-45)" font-size="6.5" text-anchor="end" fill="#222">P50</text>
<line x1="80.0" y1="229.5" x2="80.0" y2="231.9" stroke="#555" stroke-width="0.8"/>
<text transform="translate(81.8,237.8) rotate(-45)" font-size="6.5" text-anchor="end" fill="#222">C50</text>
<line x1="100.69999999999999" y1="229.5" x2="100.69999999999999" y2="231.9" stroke="#555" stroke-width="0.8"/>
<text transform="translate(102.49999999999999,237.8) rotate(-45)" font-size="6.5" text-anchor="end" fill="#222">C20</text>
<line x1="121.4" y1="229.5" x2="121.4" y2="231.9" stroke="#555" stroke-width="0.8"/>
<text transform="translate(123.2,237.8) rotate(-45)" font-size="6.5" text-anchor="end" fill="#222">PC50</text>
<text transform="translate(15.3,187.4) rotate(-90)" font-size="7.0" text-anchor="middle" fill="#222">Weight of pupae (mg)</text>
<text x="11.9" y="142.0" font-size="6.8" font-weight="bold" fill="#111">D</text>
<rect x="48.9" y="140.5" width="9.399999999999999" height="2" rx="0.5" fill="none" stroke="#b8403a" stroke-width="1.1"/>
<text x="62.9" y="143.6" font-size="5.6" fill="#222">Symbiotic</text>
<rect x="48.9" y="145.5" width="9.399999999999999" height="2" rx="0.5" fill="none" stroke="#3535b0" stroke-width="1.1"/>
<text x="62.9" y="148.9" font-size="5.6" fill="#222">Gnotobiotic</text>
<rect x="48.9" y="151.5" width="9.399999999999999" height="2" rx="0.5" fill="none" stroke="#428c42" stroke-width="1.1"/>
<text x="62.9" y="154.4" font-size="5.6" fill="#222">Axenic</text>
<g stroke="#b8403a" stroke-width="1.0" fill="none"><line x1="33.300000000000004" y1="168.3" x2="33.300000000000004" y2="180.6"/><line x1="33.300000000000004" y1="189.1" x2="33.300000000000004" y2="193.2"/><line x1="32.400000000000006" y1="168.3" x2="34.2" y2="168.3"/><line x1="32.400000000000006" y1="193.2" x2="34.2" y2="193.2"/><rect x="31.350000000000005" y="180.6" width="3.9" height="8.5" rx="0.6"/><line x1="31.350000000000005" y1="185.0" x2="35.25000000000001" y2="185.0"/></g>
<g stroke="#3535b0" stroke-width="1.0" fill="none"><line x1="38.800000000000004" y1="177.4" x2="38.800000000000004" y2="188.3"/><line x1="38.800000000000004" y1="196.4" x2="38.800000000000004" y2="200.6"/><line x1="37.900000000000006" y1="177.4" x2="39.7" y2="177.4"/><line x1="37.900000000000006" y1="200.6" x2="39.7" y2="200.6"/><rect x="36.85" y="188.3" width="3.9" height="8.099999999999994" rx="0.6"/><line x1="36.85" y1="191.8" x2="40.75" y2="191.8"/></g>
<g stroke="#428c42" stroke-width="1.0" fill="none"><line x1="44.4" y1="177.4" x2="44.4" y2="188.3"/><line x1="44.4" y1="193.9" x2="44.4" y2="212"/><line x1="43.5" y1="177.4" x2="45.3" y2="177.4"/><line x1="43.5" y1="212" x2="45.3" y2="212"/><rect x="42.449999999999996" y="188.3" width="3.9" height="5.599999999999994" rx="0.6"/><line x1="42.449999999999996" y1="190.8" x2="46.349999999999994" y2="190.8"/></g>
<g stroke="#b8403a" stroke-width="1.0" fill="none"><line x1="54.0" y1="179.4" x2="54.0" y2="189.1"/><line x1="54.0" y1="196" x2="54.0" y2="200.6"/><line x1="53.1" y1="179.4" x2="54.9" y2="179.4"/><line x1="53.1" y1="200.6" x2="54.9" y2="200.6"/><rect x="52.05" y="189.1" width="3.9" height="6.900000000000006" rx="0.6"/><line x1="52.05" y1="191.1" x2="55.949999999999996" y2="191.1"/></g>
<g stroke="#3535b0" stroke-width="1.0" fill="none"><line x1="59.5" y1="187.6" x2="59.5" y2="191.8"/><line x1="59.5" y1="196.4" x2="59.5" y2="204.3"/><line x1="58.6" y1="187.6" x2="60.4" y2="187.6"/><line x1="58.6" y1="204.3" x2="60.4" y2="204.3"/><rect x="57.55" y="191.8" width="3.9" height="4.599999999999994" rx="0.6"/><line x1="57.55" y1="193.9" x2="61.449999999999996" y2="193.9"/></g>
<g stroke="#428c42" stroke-width="1.0" fill="none"><line x1="65.1" y1="192.2" x2="65.1" y2="196"/><line x1="65.1" y1="202.2" x2="65.1" y2="205"/><line x1="64.19999999999999" y1="192.2" x2="66.0" y2="192.2"/><line x1="64.19999999999999" y1="205" x2="66.0" y2="205"/><rect x="63.14999999999999" y="196" width="3.9" height="6.199999999999989" rx="0.6"/><line x1="63.14999999999999" y1="198" x2="67.05" y2="198"/></g>
<g stroke="#b8403a" stroke-width="1.0" fill="none"><line x1="74.7" y1="168.6" x2="74.7" y2="183.6"/><line x1="74.7" y1="191.9" x2="74.7" y2="196"/><line x1="73.8" y1="168.6" x2="75.60000000000001" y2="168.6"/><line x1="73.8" y1="196" x2="75.60000000000001" y2="196"/><rect x="72.75" y="183.6" width="3.9" height="8.300000000000011" rx="0.6"/><line x1="72.75" y1="185.6" x2="76.65" y2="185.6"/></g>
<g stroke="#3535b0" stroke-width="1.0" fill="none"><line x1="80.2" y1="179.2" x2="80.2" y2="183"/><line x1="80.2" y1="192.7" x2="80.2" y2="193.9"/><line x1="79.3" y1="179.2" x2="81.10000000000001" y2="179.2"/><line x1="79.3" y1="193.9" x2="81.10000000000001" y2="193.9"/><rect x="78.25" y="183" width="3.9" height="9.699999999999989" rx="0.6"/><line x1="78.25" y1="186.0" x2="82.15" y2="186.0"/></g>
<g stroke="#428c42" stroke-width="1.0" fill="none"><line x1="85.8" y1="181.5" x2="85.8" y2="191.4"/><line x1="85.8" y1="195.3" x2="85.8" y2="214"/><line x1="84.89999999999999" y1="181.5" x2="86.7" y2="181.5"/><line x1="84.89999999999999" y1="214" x2="86.7" y2="214"/><rect x="83.85" y="191.4" width="3.9" height="3.9000000000000057" rx="0.6"/><line x1="83.85" y1="193.2" x2="87.75" y2="193.2"/></g>
<g stroke="#b8403a" stroke-width="1.0" fill="none"><line x1="95.39999999999999" y1="172.9" x2="95.39999999999999" y2="177.9"/><line x1="95.39999999999999" y1="193" x2="95.39999999999999" y2="211.3"/><line x1="94.49999999999999" y1="172.9" x2="96.3" y2="172.9"/><line x1="94.49999999999999" y1="211.3" x2="96.3" y2="211.3"/><rect x="93.44999999999999" y="177.9" width="3.9" height="15.099999999999994" rx="0.6"/><line x1="93.44999999999999" y1="188" x2="97.35" y2="188"/></g>
<g stroke="#3535b0" stroke-width="1.0" fill="none"><line x1="100.89999999999999" y1="176" x2="100.89999999999999" y2="180.5"/><line x1="100.89999999999999" y1="195.0" x2="100.89999999999999" y2="212.5"/><line x1="99.99999999999999" y1="176" x2="101.8" y2="176"/><line x1="99.99999999999999" y1="212.5" x2="101.8" y2="212.5"/><rect x="98.94999999999999" y="180.5" width="3.9" height="14.5" rx="0.6"/><line x1="98.94999999999999" y1="189.8" x2="102.85" y2="189.8"/></g>
<g stroke="#428c42" stroke-width="1.0" fill="none"><line x1="106.49999999999999" y1="185.4" x2="106.49999999999999" y2="193.2"/><line x1="106.49999999999999" y1="200" x2="106.49999999999999" y2="204.1"/><line x1="105.59999999999998" y1="185.4" x2="107.39999999999999" y2="185.4"/><line x1="105.59999999999998" y1="204.1" x2="107.39999999999999" y2="204.1"/><rect x="104.54999999999998" y="193.2" width="3.9" height="6.800000000000011" rx="0.6"/><line x1="104.54999999999998" y1="196.8" x2="108.44999999999999" y2="196.8"/></g>
<g stroke="#b8403a" stroke-width="1.0" fill="none"><line x1="116.10000000000001" y1="178.75" x2="116.10000000000001" y2="188"/><line x1="116.10000000000001" y1="195.1" x2="116.10000000000001" y2="199.6"/><line x1="115.2" y1="178.75" x2="117.00000000000001" y2="178.75"/><line x1="115.2" y1="199.6" x2="117.00000000000001" y2="199.6"/><rect x="114.15" y="188" width="3.9" height="7.099999999999994" rx="0.6"/><line x1="114.15" y1="190.6" x2="118.05000000000001" y2="190.6"/></g>
<g stroke="#3535b0" stroke-width="1.0" fill="none"><line x1="121.60000000000001" y1="191.6" x2="121.60000000000001" y2="191.7"/><line x1="121.60000000000001" y1="196.4" x2="121.60000000000001" y2="204.1"/><line x1="120.7" y1="191.6" x2="122.50000000000001" y2="191.6"/><line x1="120.7" y1="204.1" x2="122.50000000000001" y2="204.1"/><rect x="119.65" y="191.7" width="3.9" height="4.700000000000017" rx="0.6"/><line x1="119.65" y1="193.5" x2="123.55000000000001" y2="193.5"/></g>
<g stroke="#428c42" stroke-width="1.0" fill="none"><line x1="127.2" y1="193.2" x2="127.2" y2="197.5"/><line x1="127.2" y1="204.1" x2="127.2" y2="205.9"/><line x1="126.3" y1="193.2" x2="128.1" y2="193.2"/><line x1="126.3" y1="205.9" x2="128.1" y2="205.9"/><rect x="125.25" y="197.5" width="3.9" height="6.599999999999994" rx="0.6"/><line x1="125.25" y1="200.5" x2="129.15" y2="200.5"/></g>
<line x1="163.3" y1="151.0" x2="163.3" y2="230.5" stroke="#555" stroke-width="0.9"/>
<line x1="163.3" y1="230.5" x2="267.7" y2="230.5" stroke="#555" stroke-width="0.9"/>
<line x1="161.70000000000002" y1="230.5" x2="163.3" y2="230.5" stroke="#555" stroke-width="0.8"/>
<text x="160.3" y="232.7" font-size="5.6" text-anchor="end" fill="#222">0</text>
<line x1="161.70000000000002" y1="210.62" x2="163.3" y2="210.62" stroke="#555" stroke-width="0.8"/>
<text x="160.3" y="212.82" font-size="5.6" text-anchor="end" fill="#222">25</text>
<line x1="161.70000000000002" y1="190.75" x2="163.3" y2="190.75" stroke="#555" stroke-width="0.8"/>
<text x="160.3" y="192.95" font-size="5.6" text-anchor="end" fill="#222">50</text>
<line x1="161.70000000000002" y1="170.88" x2="163.3" y2="170.88" stroke="#555" stroke-width="0.8"/>
<text x="160.3" y="173.07999999999998" font-size="5.6" text-anchor="end" fill="#222">75</text>
<line x1="161.70000000000002" y1="151.0" x2="163.3" y2="151.0" stroke="#555" stroke-width="0.8"/>
<text x="160.3" y="153.2" font-size="5.6" text-anchor="end" fill="#222">100</text>
<line x1="173.0" y1="230.5" x2="173.0" y2="232.9" stroke="#555" stroke-width="0.8"/>
<text transform="translate(174.5,238.0) rotate(-45)" font-size="5.8" text-anchor="end" fill="#222">Control</text>
<line x1="194.3" y1="230.5" x2="194.3" y2="232.9" stroke="#555" stroke-width="0.8"/>
<text transform="translate(195.8,238.0) rotate(-45)" font-size="5.8" text-anchor="end" fill="#222">P50</text>
<line x1="215.6" y1="230.5" x2="215.6" y2="232.9" stroke="#555" stroke-width="0.8"/>
<text transform="translate(217.1,238.0) rotate(-45)" font-size="5.8" text-anchor="end" fill="#222">C50</text>
<line x1="236.9" y1="230.5" x2="236.9" y2="232.9" stroke="#555" stroke-width="0.8"/>
<text transform="translate(238.4,238.0) rotate(-45)" font-size="5.8" text-anchor="end" fill="#222">C20</text>
<line x1="258.2" y1="230.5" x2="258.2" y2="232.9" stroke="#555" stroke-width="0.8"/>
<text transform="translate(259.7,238.0) rotate(-45)" font-size="5.8" text-anchor="end" fill="#222">PC50</text>
<text transform="translate(147.0,192) rotate(-90)" font-size="6.8" text-anchor="middle" fill="#222">Adult emergence (%)</text>
<text x="141.8" y="142.0" font-size="6.8" font-weight="bold" fill="#111">E</text>
<rect x="184" y="139.2" width="9" height="2.6" fill="#a00a0a"/>
<text x="197.2" y="142.2" font-size="5.3" fill="#222">Symbiotic</text>
<rect x="184" y="143.85" width="9" height="2.6" fill="#0a0af0"/>
<text x="197.2" y="146.9" font-size="5.3" fill="#222">Gnotobiotic</text>
<rect x="184" y="148.75" width="9" height="2.6" fill="#0a7a0a"/>
<text x="197.2" y="151.7" font-size="5.3" fill="#222">Axenic</text>
<rect x="164.85" y="153.9" width="4.3" height="76.6" fill="#a00a0a"/>
<line x1="167.0" y1="152.9" x2="167.0" y2="153.9" stroke="#a00a0a" stroke-width="0.6"/>
<line x1="166.2" y1="152.9" x2="167.8" y2="152.9" stroke="#a00a0a" stroke-width="0.6"/>
<text x="167.0" y="151.9" font-size="4.9" text-anchor="middle" fill="#333" style="stroke:#333;stroke-width:0.1px">a</text>
<rect x="170.85" y="161.9" width="4.3" height="68.6" fill="#0a0af0"/>
<line x1="173.0" y1="160.9" x2="173.0" y2="161.9" stroke="#0a0af0" stroke-width="0.6"/>
<line x1="172.2" y1="160.9" x2="173.8" y2="160.9" stroke="#0a0af0" stroke-width="0.6"/>
<text x="173.0" y="159.9" font-size="4.9" text-anchor="middle" fill="#333" style="stroke:#333;stroke-width:0.1px">ab</text>
<rect x="176.85" y="175.7" width="4.3" height="54.80000000000001" fill="#0a7a0a"/>
<line x1="179.0" y1="174.7" x2="179.0" y2="175.7" stroke="#0a7a0a" stroke-width="0.6"/>
<line x1="178.2" y1="174.7" x2="179.8" y2="174.7" stroke="#0a7a0a" stroke-width="0.6"/>
<text x="179.0" y="173.7" font-size="4.9" text-anchor="middle" fill="#333" style="stroke:#333;stroke-width:0.1px">de</text>
<rect x="186.15" y="175.5" width="4.3" height="55.0" fill="#a00a0a"/>
<line x1="188.3" y1="174.5" x2="188.3" y2="175.5" stroke="#a00a0a" stroke-width="0.6"/>
<line x1="187.5" y1="174.5" x2="189.10000000000002" y2="174.5" stroke="#a00a0a" stroke-width="0.6"/>
<text x="188.3" y="173.5" font-size="4.9" text-anchor="middle" fill="#333" style="stroke:#333;stroke-width:0.1px">cde</text>
<rect x="192.15" y="180.2" width="4.3" height="50.30000000000001" fill="#0a0af0"/>
<line x1="194.3" y1="179.2" x2="194.3" y2="180.2" stroke="#0a0af0" stroke-width="0.6"/>
<line x1="193.5" y1="179.2" x2="195.10000000000002" y2="179.2" stroke="#0a0af0" stroke-width="0.6"/>
<text x="194.3" y="178.2" font-size="4.9" text-anchor="middle" fill="#333" style="stroke:#333;stroke-width:0.1px">ef</text>
<rect x="198.15" y="183.5" width="4.3" height="47.0" fill="#0a7a0a"/>
<line x1="200.3" y1="182.5" x2="200.3" y2="183.5" stroke="#0a7a0a" stroke-width="0.6"/>
<line x1="199.5" y1="182.5" x2="201.10000000000002" y2="182.5" stroke="#0a7a0a" stroke-width="0.6"/>
<text x="200.3" y="181.5" font-size="4.9" text-anchor="middle" fill="#333" style="stroke:#333;stroke-width:0.1px">ef</text>
<rect x="207.45" y="160.1" width="4.3" height="70.4" fill="#a00a0a"/>
<line x1="209.6" y1="159.1" x2="209.6" y2="160.1" stroke="#a00a0a" stroke-width="0.6"/>
<line x1="208.79999999999998" y1="159.1" x2="210.4" y2="159.1" stroke="#a00a0a" stroke-width="0.6"/>
<text x="209.6" y="158.1" font-size="4.9" text-anchor="middle" fill="#333" style="stroke:#333;stroke-width:0.1px">ab</text>
<rect x="213.45" y="166" width="4.3" height="64.5" fill="#0a0af0"/>
<line x1="215.6" y1="165.0" x2="215.6" y2="166" stroke="#0a0af0" stroke-width="0.6"/>
<line x1="214.79999999999998" y1="165.0" x2="216.4" y2="165.0" stroke="#0a0af0" stroke-width="0.6"/>
<text x="215.6" y="164.0" font-size="4.9" text-anchor="middle" fill="#333" style="stroke:#333;stroke-width:0.1px">bc</text>
<rect x="219.45" y="176.1" width="4.3" height="54.400000000000006" fill="#0a7a0a"/>
<line x1="221.6" y1="175.1" x2="221.6" y2="176.1" stroke="#0a7a0a" stroke-width="0.6"/>
<line x1="220.79999999999998" y1="175.1" x2="222.4" y2="175.1" stroke="#0a7a0a" stroke-width="0.6"/>
<text x="221.6" y="174.1" font-size="4.9" text-anchor="middle" fill="#333" style="stroke:#333;stroke-width:0.1px">de</text>
<rect x="228.75" y="166" width="4.3" height="64.5" fill="#a00a0a"/>
<line x1="230.9" y1="165.0" x2="230.9" y2="166" stroke="#a00a0a" stroke-width="0.6"/>
<line x1="230.1" y1="165.0" x2="231.70000000000002" y2="165.0" stroke="#a00a0a" stroke-width="0.6"/>
<text x="230.9" y="164.0" font-size="4.9" text-anchor="middle" fill="#333" style="stroke:#333;stroke-width:0.1px">bc</text>
<rect x="234.75" y="168.8" width="4.3" height="61.69999999999999" fill="#0a0af0"/>
<line x1="236.9" y1="167.8" x2="236.9" y2="168.8" stroke="#0a0af0" stroke-width="0.6"/>
<line x1="236.1" y1="167.8" x2="237.70000000000002" y2="167.8" stroke="#0a0af0" stroke-width="0.6"/>
<text x="236.9" y="166.8" font-size="4.9" text-anchor="middle" fill="#333" style="stroke:#333;stroke-width:0.1px">bcd</text>
<rect x="240.75" y="180.6" width="4.3" height="49.900000000000006" fill="#0a7a0a"/>
<line x1="242.9" y1="179.6" x2="242.9" y2="180.6" stroke="#0a7a0a" stroke-width="0.6"/>
<line x1="242.1" y1="179.6" x2="243.70000000000002" y2="179.6" stroke="#0a7a0a" stroke-width="0.6"/>
<text x="242.9" y="178.6" font-size="4.9" text-anchor="middle" fill="#333" style="stroke:#333;stroke-width:0.1px">ef</text>
<rect x="250.04999999999998" y="177.8" width="4.3" height="52.69999999999999" fill="#a00a0a"/>
<line x1="252.2" y1="176.8" x2="252.2" y2="177.8" stroke="#a00a0a" stroke-width="0.6"/>
<line x1="251.39999999999998" y1="176.8" x2="253.0" y2="176.8" stroke="#a00a0a" stroke-width="0.6"/>
<text x="252.2" y="175.8" font-size="4.9" text-anchor="middle" fill="#333" style="stroke:#333;stroke-width:0.1px">de</text>
<rect x="256.05" y="182.2" width="4.3" height="48.30000000000001" fill="#0a0af0"/>
<line x1="258.2" y1="181.2" x2="258.2" y2="182.2" stroke="#0a0af0" stroke-width="0.6"/>
<line x1="257.4" y1="181.2" x2="259.0" y2="181.2" stroke="#0a0af0" stroke-width="0.6"/>
<text x="258.2" y="180.2" font-size="4.9" text-anchor="middle" fill="#333" style="stroke:#333;stroke-width:0.1px">ef</text>
<rect x="262.05" y="188.3" width="4.3" height="42.19999999999999" fill="#0a7a0a"/>
<line x1="264.2" y1="187.3" x2="264.2" y2="188.3" stroke="#0a7a0a" stroke-width="0.6"/>
<line x1="263.4" y1="187.3" x2="265.0" y2="187.3" stroke="#0a7a0a" stroke-width="0.6"/>
<text x="264.2" y="186.3" font-size="4.9" text-anchor="middle" fill="#333" style="stroke:#333;stroke-width:0.1px">f</text>
</svg></body></html>
